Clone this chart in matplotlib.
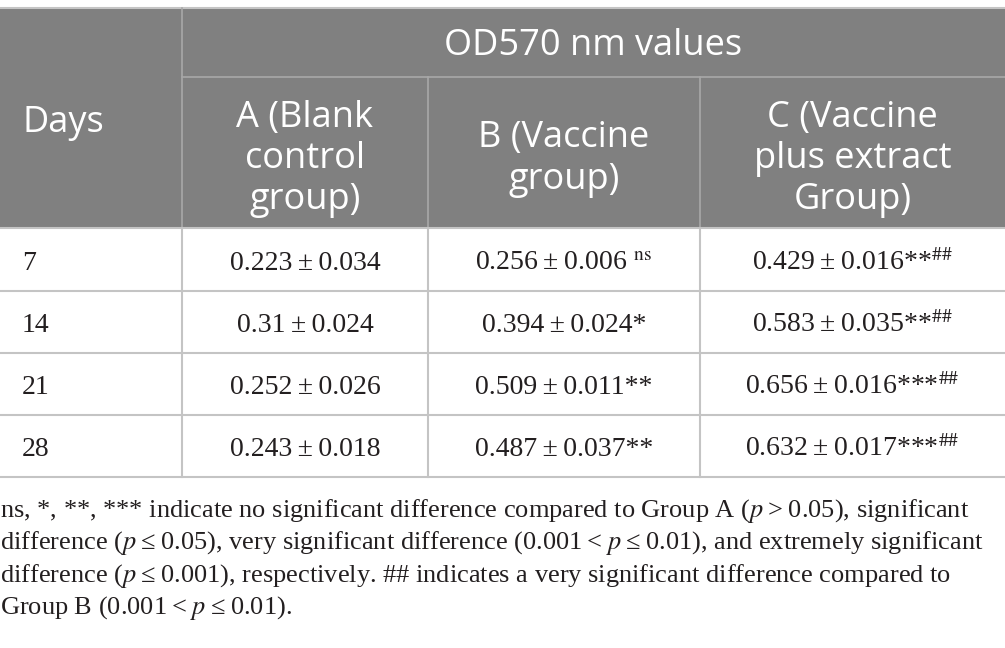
import matplotlib.pyplot as plt
from matplotlib.patches import Rectangle

plt.rcParams['mathtext.fontset'] = 'stix'

days = [7, 14, 21, 28]
mean_a = [0.223, 0.31, 0.252, 0.243]
sd_a = [0.034, 0.024, 0.026, 0.018]
mean_b = [0.256, 0.394, 0.509, 0.487]
sd_b = [0.006, 0.024, 0.011, 0.037]
sig_b = ['ns', '*', '**', '**']
mean_c = [0.429, 0.583, 0.656, 0.632]
sd_c = [0.016, 0.035, 0.016, 0.017]
sig_c = ['**', '**', '***', '***']
sig_c_vs_b = ['##', '##', '##', '##']

top_header = 'OD570 nm values'
col_headers = ['A (Blank\ncontrol\ngroup)', 'B (Vaccine\ngroup)', 'C (Vaccine\nplus extract\nGroup)']

ts = '\u2009'
footnote = [
    f'ns, *, **, *** indicate no significant difference compared to Group A ($\\it{{p}}${ts}>{ts}0.05), significant',
    f'difference ($\\it{{p}}${ts}≤{ts}0.05), very significant difference (0.001{ts}<{ts}$\\it{{p}}${ts}≤{ts}0.01), and extremely significant',
    f'difference ($\\it{{p}}${ts}≤{ts}0.001), respectively. ## indicates a very significant difference compared to',
    f'Group B (0.001{ts}<{ts}$\\it{{p}}${ts}≤{ts}0.01).',
]

W, H = 1005, 648
fig = plt.figure(figsize=(W / 100, H / 100), dpi=100)
ax = fig.add_axes([0, 0, 1, 1])
ax.set_xlim(0, W)
ax.set_ylim(H, 0)
ax.axis('off')

xs = [0, 182, 428, 700, 1005]
head_top, head_mid, head_bot = 8, 77, 228
row_y = [228, 291, 353, 415, 477]
gray = '#808080'
hline = '#a8a8a8'
gline = '#c4c4c4'

# header background
ax.add_patch(Rectangle((0, head_top), W, head_bot - head_top, color=gray, lw=0))
ax.plot([0, W], [head_top, head_top], color=gline, lw=1.5)
ax.plot([xs[1], W], [head_mid, head_mid], color=hline, lw=1.2)
ax.plot([xs[1], xs[1]], [head_top, head_bot], color=hline, lw=1.2)
for x in xs[2:4]:
    ax.plot([x, x], [head_mid, head_bot], color=hline, lw=1.2)

hfont = dict(family='Open Sans', color='white', fontsize=26)
ax.text(22, 123, 'Days', ha='left', va='center', **hfont)
ax.text((xs[1] + W) / 2, 46, top_header, ha='center', va='center', **hfont)
for i, lab in enumerate(col_headers):
    ax.text((xs[i + 1] + xs[i + 2]) / 2, 159, lab, ha='center', va='center',
            linespacing=1.2, multialignment='center', **hfont)

# body grid
for y in row_y:
    ax.plot([0, W], [y, y], color=gline, lw=1.5)
for x in xs[1:4]:
    ax.plot([x, x], [row_y[0], row_y[-1]], color=gline, lw=1.5)

pm = f'{ts}±{ts}'
dfont = dict(family='Liberation Serif', color='#231f20', fontsize=20, va='baseline')
for r in range(len(days)):
    yb = (row_y[r] + row_y[r + 1]) / 2 + 10.5
    ax.text(22, yb, str(days[r]), ha='left', **dfont)
    ax.text((xs[1] + xs[2]) / 2, yb, f'{mean_a[r]:g}{pm}{sd_a[r]:g}', ha='center', **dfont)
    sb = sig_b[r]
    if sb == 'ns':
        tb = f'{mean_b[r]:g}{pm}{sd_b[r]:g} ' + r'$^{\mathrm{ns}}$'
    else:
        tb = f'{mean_b[r]:g}{pm}{sd_b[r]:g}{sb}'
    ax.text((xs[2] + xs[3]) / 2, yb, tb, ha='center', **dfont)
    tc = f'{mean_c[r]:g}{pm}{sd_c[r]:g}{sig_c[r]}' + '$^{' + sig_c_vs_b[r].replace('#', r'\#') + '}$'
    ax.text((xs[3] + xs[4]) / 2, yb, tc, ha='center', **dfont)

for i, line in enumerate(footnote):
    ax.text(0, 517 + i * 32.4, line, ha='left', va='baseline',
            family='Liberation Serif', color='#231f20', fontsize=19)

fig.savefig('out.png', dpi=100)
